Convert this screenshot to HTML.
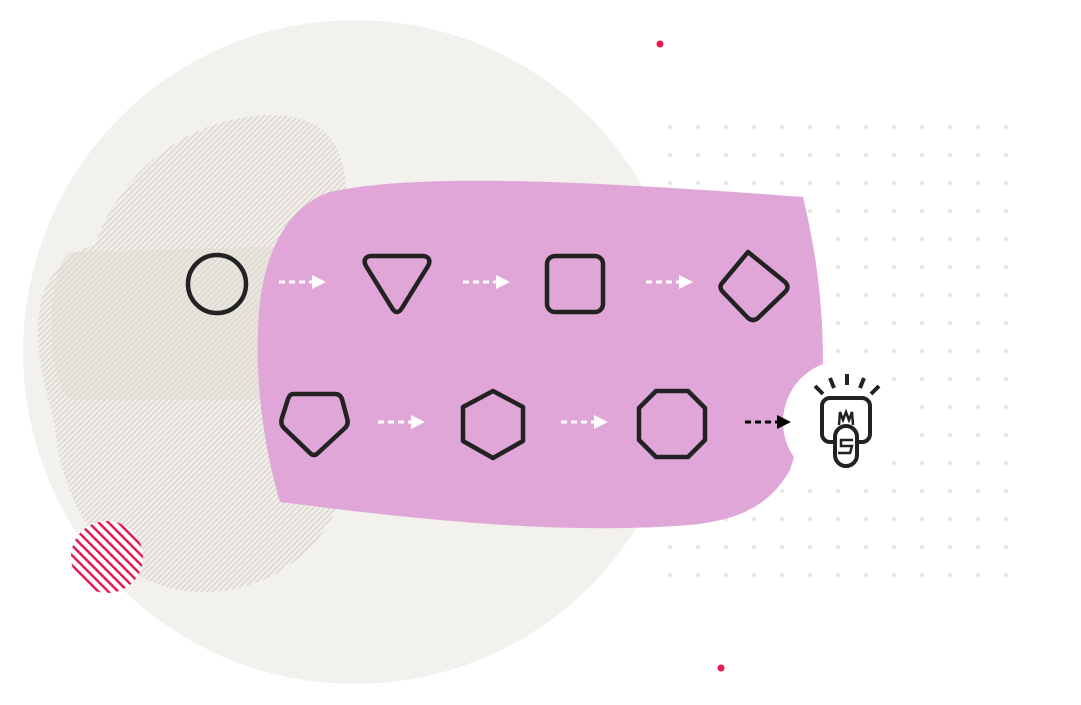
<!DOCTYPE html>
<html><head><meta charset="utf-8"><style>html,body{margin:0;padding:0;background:#fff}svg{display:block}</style></head>
<body>
<svg width="1081" height="705" viewBox="0 0 1081 705" xmlns="http://www.w3.org/2000/svg">
<defs>
<pattern id="dots" x="670" y="127" width="28" height="28" patternUnits="userSpaceOnUse">
<circle cx="0" cy="0" r="2" fill="#e6e4de"/><circle cx="28" cy="0" r="2" fill="#e6e4de"/><circle cx="0" cy="28" r="2" fill="#e6e4de"/><circle cx="28" cy="28" r="2" fill="#e6e4de"/>
</pattern>
<pattern id="hatch" width="4" height="4" patternUnits="userSpaceOnUse" patternTransform="rotate(45)">
<rect width="4" height="4" fill="#f1f0ec"/><rect width="1.6" height="4" fill="#dcd8cf"/>
</pattern>
<pattern id="red" width="7" height="7" patternUnits="userSpaceOnUse" patternTransform="rotate(-45)">
<rect width="7" height="7" fill="#fff"/><rect width="2.5" height="7" fill="#e8194f"/>
</pattern>
</defs>
<rect x="660" y="120" width="360" height="465" fill="url(#dots)"/>
<circle cx="355" cy="352" r="332" fill="#f2f1ed"/>
<path d="M95,245 C120,170 190,118 265,115 C330,113 352,150 345,220 L345,490 C320,560 260,595 195,592 C120,588 65,520 55,430 C52,405 40,380 38,340 C36,290 55,255 95,245 Z" fill="url(#hatch)"/>
<path d="M70,252 L330,245 L330,400 L70,400 C45,380 45,272 70,252 Z" fill="#e0dbd2" opacity="0.5"/>
<circle cx="107" cy="557" r="36" fill="url(#red)"/>
<path d="M330,192 C420,172 600,182 803,197 C818,260 823,310 823,365 L790,470 C770,505 740,520 690,525 C560,535 420,520 280,502 C262,440 256,380 258,330 C260,250 290,205 330,192 Z" fill="#e1a6d8"/>
<circle cx="845" cy="422" r="62" fill="#fff"/>
<circle cx="660" cy="44" r="3.5" fill="#e8194f"/>
<circle cx="721" cy="668" r="3.5" fill="#e8194f"/>
<g fill="none" stroke="#222" stroke-width="4.5" stroke-linejoin="round" stroke-linecap="round">
<circle cx="217" cy="284" r="29"/>
<path d="M370,256 L424,256 Q432,258 428,266 L402,308 Q397,316 392,308 L366,266 Q362,258 370,256 Z"/>
<rect x="547" y="256" width="56" height="56" rx="8"/>
<path d="M748,252 L785,282 Q790,287 785,292 L758,318 Q753,322 748,318 L723,292 Q718,287 723,282 Z"/>
<path d="M293,394 L335,394 Q340,394 342,399 L347,418 Q349,424 345,428 L318,453 Q314,457 310,453 L284,428 Q280,424 282,418 L288,399 Q290,394 293,394 Z"/>
<path d="M493,391 L523,407 L523,441 L493,458 L463,441 L463,407 Z"/>
<path d="M656,391 L688,391 L705,408 L705,440 L688,457 L656,457 L639,440 L639,408 Z"/>
</g>
<g stroke="#fff" stroke-width="3" stroke-dasharray="6,4" fill="none">
<line x1="279" y1="282" x2="312" y2="282"/><line x1="463" y1="282" x2="496" y2="282"/><line x1="646" y1="282" x2="679" y2="282"/>
<line x1="378" y1="422" x2="411" y2="422"/><line x1="561" y1="422" x2="594" y2="422"/>
</g>
<g fill="#fff">
<path d="M312,275 L326,282 L312,289 Z"/><path d="M496,275 L510,282 L496,289 Z"/><path d="M679,275 L693,282 L679,289 Z"/>
<path d="M411,415 L425,422 L411,429 Z"/><path d="M594,415 L608,422 L594,429 Z"/>
</g>
<line x1="745" y1="422" x2="777" y2="422" stroke="#000" stroke-width="3" stroke-dasharray="6,4"/>
<path d="M777,415 L791,422 L777,429 Z" fill="#000"/>
<g fill="none" stroke="#222" stroke-width="4">
<rect x="822" y="398" width="48" height="44" rx="8"/>
<rect x="835" y="426" width="22" height="40" rx="11" fill="#fff"/>
<path d="M839,425 L840,412 L843,420 L846,412 L849,420 L852,412 L853,425" stroke-width="2.5"/>
<path d="M853,440 L841,440 L841,446 L852,446 L850,453 L838,453" stroke-width="2.5"/>
<line x1="847" y1="374" x2="847" y2="385"/><line x1="830" y1="378" x2="834" y2="388"/><line x1="864" y1="378" x2="860" y2="388"/>
<line x1="815" y1="386" x2="823" y2="394"/><line x1="879" y1="386" x2="871" y2="394"/>
</g>
</svg>
</body></html>
